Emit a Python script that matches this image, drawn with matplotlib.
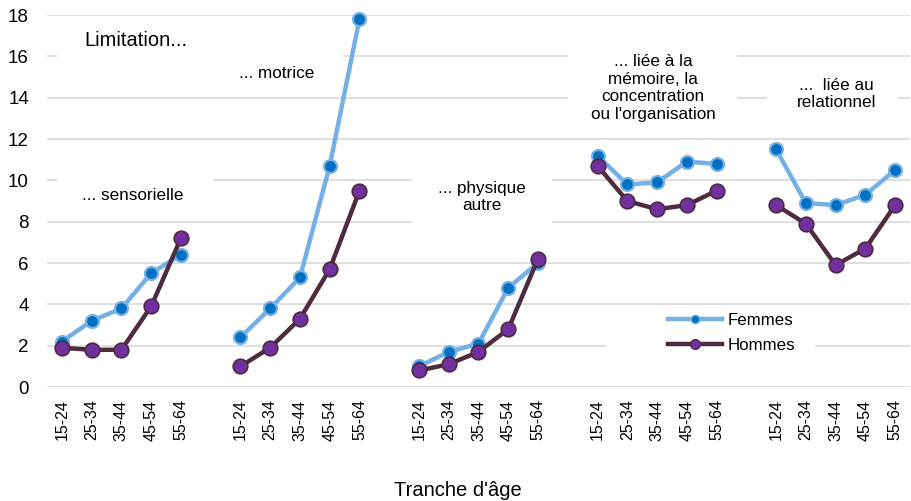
import matplotlib
matplotlib.use("Agg")
import matplotlib.pyplot as plt
from matplotlib.patches import Rectangle
from matplotlib.lines import Line2D

plt.rcParams['font.family'] = ['Liberation Sans', 'DejaVu Sans']

# ---- data ----
ages = ["15-24", "25-34", "35-44", "45-54", "55-64"]
groups = ["... sensorielle", "... motrice", "... physique\nautre",
          "... liée à la\nmémoire, la\nconcentration\nou l'organisation",
          "...  liée au\nrelationnel"]
femmes_sensorielle = [2.2, 3.2, 3.8, 5.5, 6.4]
femmes_motrice = [2.4, 3.8, 5.3, 10.7, 17.8]
femmes_physique = [1.0, 1.7, 2.1, 4.8, 6.0]
femmes_memoire = [11.2, 9.8, 9.9, 10.9, 10.8]
femmes_relationnel = [11.5, 8.9, 8.8, 9.3, 10.5]
hommes_sensorielle = [1.9, 1.8, 1.8, 3.9, 7.2]
hommes_motrice = [1.0, 1.9, 3.3, 5.7, 9.5]
hommes_physique = [0.8, 1.1, 1.7, 2.8, 6.2]
hommes_memoire = [10.7, 9.0, 8.6, 8.8, 9.5]
hommes_relationnel = [8.8, 7.9, 5.9, 6.7, 8.8]
yticks = list(range(0, 19, 2))

femmes = [femmes_sensorielle, femmes_motrice, femmes_physique, femmes_memoire, femmes_relationnel]
hommes = [hommes_sensorielle, hommes_motrice, hommes_physique, hommes_memoire, hommes_relationnel]

# ---- style ----
c_f_line = "#74AFE6"
c_f_mark = "#0070C0"
c_h_line = "#4E2B3E"
c_h_mark = "#7030A0"
grid_c = "#D9D9D9"

W, H = 912, 501
fig = plt.figure(figsize=(W / 100, H / 100), dpi=100)
ax = fig.add_axes([47 / W, 1 - 387 / H, (910 - 47) / W, (387 - 15) / H])
ax.set_xlim(-0.5, 28.5)
ax.set_ylim(0, 18)
for s in ax.spines.values():
    s.set_visible(False)
ax.set_yticks(yticks)
ax.tick_params(axis='y', length=0, pad=13, labelsize=13.5)
ax.yaxis.grid(True, color=grid_c, linewidth=1.2, zorder=0)
ax.set_axisbelow(True)

xt, xl = [], []
for g in range(len(groups)):
    xs = [g * 6 + i for i in range(len(ages))]
    xt += xs
    xl += ages
    ax.plot(xs, femmes[g], color=c_f_line, lw=3.2, marker='o', ms=9.3,
            mfc=c_f_mark, mec=c_f_line, mew=1.6, zorder=3, solid_capstyle='round',
            clip_on=False)
    ax.plot(xs, hommes[g], color=c_h_line, lw=3.2, marker='o', ms=10.5,
            mfc=c_h_mark, mec=c_h_line, mew=1.2, zorder=4, solid_capstyle='round',
            clip_on=False)
ax.set_xticks(xt)
ax.set_xticklabels(xl, rotation=90)
ax.tick_params(axis='x', length=0, pad=9, labelsize=11.5)

# white text boxes covering gridlines
boxes = [(-0.17, 15.2, 5.3, 2.4), (5.15, 14.5, 4.3, 2.0), (-0.17, 8.6, 5.25, 2.0),
         (11.76, 7.4, 4.7, 3.4), (17.0, 12.5, 5.7, 4.7), (23.7, 12.9, 4.4, 2.4),
         (18.3, 0.9, 7.0, 3.0)]
for (x0, y0, w, h) in boxes:
    ax.add_patch(Rectangle((x0, y0), w, h, facecolor='white', edgecolor='none', zorder=1))

ax.text(2.49, 16.79, "Limitation...", ha='center', va='center', fontsize=14.5, zorder=5)
label_pos = [(2.37, 9.29), (7.23, 15.19), (14.1, 9.19), (19.87, 14.47), (26.03, 14.18)]
for lab, (x, y) in zip(groups, label_pos):
    ax.text(x, y, lab, ha='center', va='center', multialignment='center',
            fontsize=12.3, linespacing=1.2, zorder=5)

handles = [Line2D([], [], color=c_f_line, lw=3.2, marker='o', ms=6, mfc=c_f_mark, mec=c_f_line, mew=1),
           Line2D([], [], color=c_h_line, lw=3.2, marker='o', ms=7, mfc=c_h_mark, mec=c_h_line, mew=1)]
fig.legend(handles, ["Femmes", "Hommes"], loc='center left',
           bbox_to_anchor=(668 / W, 1 - 333 / H), frameon=False, fontsize=12.2,
           handlelength=3.2, handletextpad=0.3, labelspacing=0.55,
           borderpad=0, borderaxespad=0)

fig.text(458 / W, 1 - 490 / H, "Tranche d'âge", ha='center', va='center', fontsize=14.5)

fig.savefig("out.png", dpi=100)
